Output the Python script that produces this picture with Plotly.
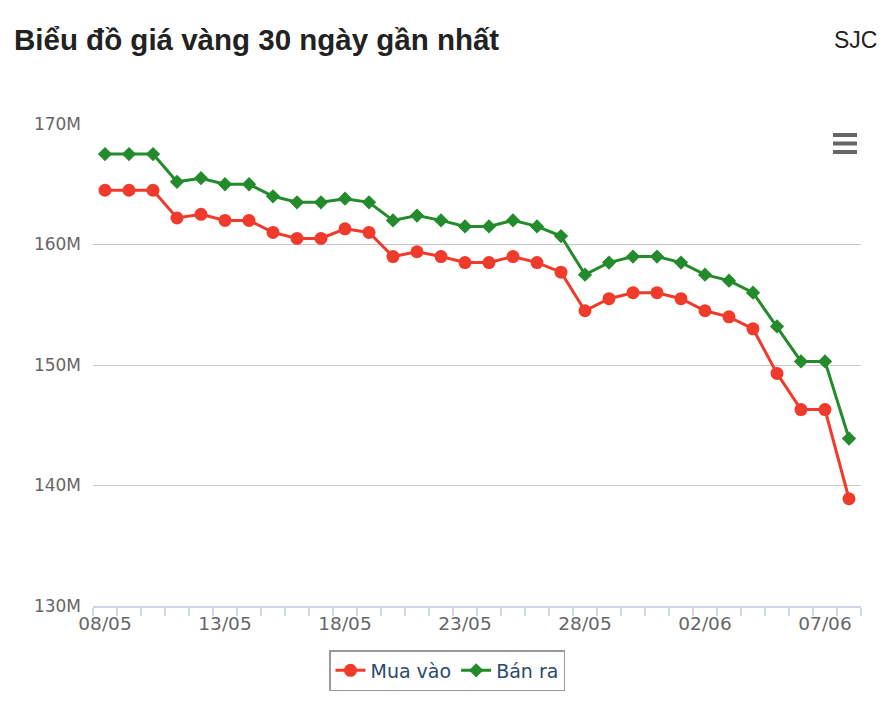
import plotly.graph_objects as go

dates = ["08/05", "09/05", "10/05", "11/05", "12/05", "13/05", "14/05", "15/05",
         "16/05", "17/05", "18/05", "19/05", "20/05", "21/05", "22/05", "23/05",
         "24/05", "25/05", "26/05", "27/05", "28/05", "29/05", "30/05", "31/05",
         "01/06", "02/06", "03/06", "04/06", "05/06", "06/06", "07/06", "08/06"]

mua_vao = [164.5, 164.5, 164.5, 162.2, 162.5, 162.0, 162.0, 161.0,
           160.5, 160.5, 161.3, 161.0, 159.0, 159.4, 159.0, 158.5,
           158.5, 159.0, 158.5, 157.7, 154.5, 155.5, 156.0, 156.0,
           155.5, 154.5, 154.0, 153.0, 149.3, 146.3, 146.3, 138.9]

ban_ra = [167.5, 167.5, 167.5, 165.2, 165.5, 165.0, 165.0, 164.0,
          163.5, 163.5, 163.8, 163.5, 162.0, 162.4, 162.0, 161.5,
          161.5, 162.0, 161.5, 160.7, 157.5, 158.5, 159.0, 159.0,
          158.5, 157.5, 157.0, 156.0, 153.2, 150.3, 150.3, 143.9]

y_ticks = [130, 140, 150, 160, 170]
y_tick_labels = ["130M", "140M", "150M", "160M", "170M"]

idx = list(range(len(dates)))
label_idx = idx[::5]

# page body has an 8px margin; figure is drawn from (8, 8)
OFF = 8
W, H = 894 - OFF, 716 - OFF
L, R, T, B = 93 - OFF, 894 - 861, 124 - OFF, 716 - 606
PW, PH = W - L - R, H - T - B


def px(xpage):
    return (xpage - OFF - L) / PW


def py(ypage):
    return (H - B - (ypage - OFF)) / PH


fig = go.Figure()
fig.add_trace(go.Scatter(
    x=idx, y=mua_vao, name="Mua vào", mode="lines+markers",
    line=dict(color="#f03a2c", width=3),
    marker=dict(symbol="circle", size=13, color="#f03a2c"),
    customdata=dates, hovertemplate="%{customdata}: %{y}M<extra>Mua vào</extra>"))
fig.add_trace(go.Scatter(
    x=idx, y=ban_ra, name="Bán ra", mode="lines+markers",
    line=dict(color="#238b2b", width=3),
    marker=dict(symbol="diamond", size=11, color="#238b2b"),
    customdata=dates, hovertemplate="%{customdata}: %{y}M<extra>Bán ra</extra>"))

fig.update_layout(
    width=W, height=H,
    margin=dict(l=L, r=R, t=T, b=B),
    paper_bgcolor="white", plot_bgcolor="white",
    font=dict(family="DejaVu Sans", color="#666666"),
    showlegend=True,
    legend=dict(orientation="h", x=px(447), xanchor="center", y=py(650), yanchor="top",
                bordercolor="#999999", borderwidth=1.5, bgcolor="white",
                font=dict(size=19, color="#2b4a6d", family="DejaVu Sans")),
    xaxis=dict(range=[-0.5, len(dates) - 0.5], tickmode="array",
               tickvals=label_idx, ticktext=[dates[i] for i in label_idx],
               ticks="", showgrid=False, zeroline=False,
               showline=True, linecolor="#ccd6eb", linewidth=2,
               tickfont=dict(size=18.5, color="#666666"),
               minor=dict(ticks="outside", tickmode="linear", tick0=-0.5, dtick=1,
                          ticklen=8, tickcolor="#ccd6eb", tickwidth=2, showgrid=False)),
    yaxis=dict(range=[130, 170], tickmode="array", tickvals=y_ticks,
               ticktext=y_tick_labels, showgrid=True, gridcolor="#c8c8c8",
               gridwidth=1, zeroline=False, showline=False, ticks="",
               ticklabelstandoff=11,
               tickfont=dict(size=17, color="#666666")),
    annotations=[
        dict(text="<b>Biểu đồ giá vàng 30 ngày gần nhất</b>", xref="paper", yref="paper",
             x=px(12), y=py(40), xanchor="left", yanchor="middle", showarrow=False,
             font=dict(family="Liberation Sans", size=29.5, color="#222222")),
        dict(text="SJC", xref="paper", yref="paper",
             x=px(879), y=py(40), xanchor="right", yanchor="middle", showarrow=False,
             font=dict(family="Liberation Sans", size=23, color="#222222")),
    ],
    shapes=[
        dict(type="line", xref="paper", yref="paper", x0=px(833), x1=px(857),
             y0=py(yy), y1=py(yy), line=dict(color="#666666", width=4))
        for yy in (135, 143.5, 152)
    ],
)

fig.write_html("out.html")
